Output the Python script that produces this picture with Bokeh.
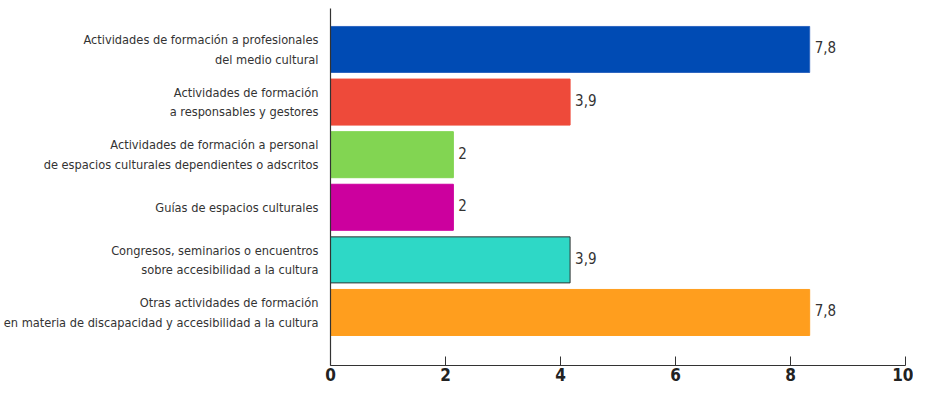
from bokeh.plotting import figure
from bokeh.models import Range1d, LinearAxis, FixedTicker, ColumnDataSource
from bokeh.core.properties import value
from bokeh.embed import file_html
from bokeh.resources import INLINE

categories = [
    "Actividades de formación a profesionales\ndel medio cultural",
    "Actividades de formación\na responsables y gestores",
    "Actividades de formación a personal\nde espacios culturales dependientes o adscritos",
    "Guías de espacios culturales",
    "Congresos, seminarios o encuentros\nsobre accesibilidad a la cultura",
    "Otras actividades de formación\nen materia de discapacidad y accesibilidad a la cultura",
]
values = [7.8, 3.9, 2, 2, 3.9, 7.8]
value_labels = ["7,8", "3,9", "2", "2", "3,9", "7,8"]
colors = ["#004BB4", "#EE4A3A", "#82D552", "#CC009E", "#2ED8C6", "#FF9E1E"]
outlines = ["#2F66C0", "#EE4A3A", "#82D552", "#CC009E", "#333333", "#FF9E1E"]
x_ticks = [0, 2, 4, 6, 8, 10]

FONT = "'DejaVu Sans Condensed', Roboto"
pos = list(range(len(categories)))

p = figure(width=913, height=387, output_backend="svg", toolbar_location=None,
           title=None,
           x_range=Range1d(0, 10), y_range=Range1d(6.008, -0.779),
           min_border_left=329, min_border_right=8, min_border_top=8, min_border_bottom=22,
           x_axis_location=None, y_axis_location=None)
p.outline_line_color = None
p.xgrid.visible = False
p.ygrid.visible = False
p.background_fill_color = "white"
p.border_fill_color = "white"

# bars are drawn on their own scale, as in the reference picture
p.extra_x_ranges = {"bars": Range1d(0, 10 / 1.0684)}

src = ColumnDataSource(dict(y=pos, v=values, lab=value_labels, c=colors, lc=outlines))
p.hbar(y="y", right="v", left=0, height=0.875, fill_color="c", line_color="lc",
       line_width=1, source=src, x_range_name="bars")
p.text(x="v", y="y", text="lab", source=src, x_range_name="bars", x_offset=5,
       y_offset=-2, text_baseline="middle", text_align="left", text_font=value(FONT),
       text_font_size="15px", text_color="#333333")

xa = LinearAxis(ticker=FixedTicker(ticks=x_ticks))
xa.axis_line_color = "#333333"
xa.axis_line_width = 1.2
xa.major_tick_line_color = "#333333"
xa.major_tick_in = 9
xa.major_tick_out = 0
xa.minor_tick_line_color = None
xa.major_label_text_font = FONT
xa.major_label_text_font_style = "bold"
xa.major_label_text_font_size = "17px"
xa.major_label_text_color = "#222222"
xa.major_label_standoff = 2
p.add_layout(xa, "below")

ya = LinearAxis(ticker=FixedTicker(ticks=pos))
ya.major_label_overrides = {i: c for i, c in zip(pos, categories)}
ya.axis_line_color = "#333333"
ya.axis_line_width = 1.2
ya.major_tick_line_color = None
ya.minor_tick_line_color = None
ya.major_label_text_font = FONT
ya.major_label_text_font_size = "12.7px"
ya.major_label_text_color = "#333333"
ya.major_label_text_align = "right"
ya.major_label_standoff = 6
ya.major_label_text_line_height = 1.3
p.add_layout(ya, "left")

open("out.html", "w").write(file_html(p, INLINE))
